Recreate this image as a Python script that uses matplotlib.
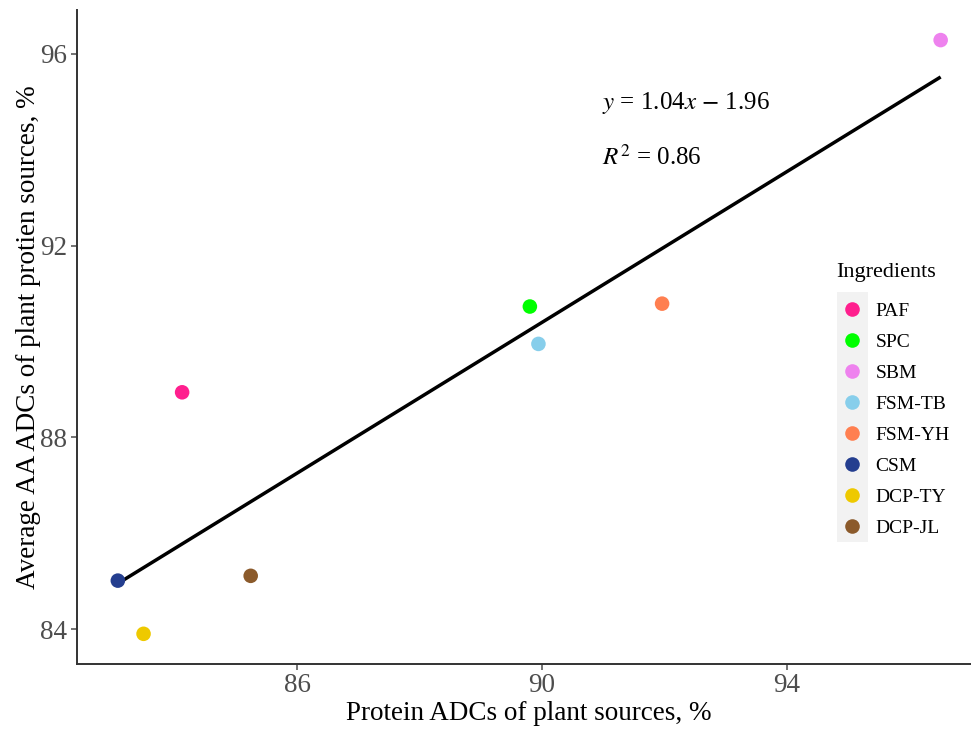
import numpy as np
import matplotlib
matplotlib.use("Agg")
import matplotlib.pyplot as plt
from matplotlib.lines import Line2D
from matplotlib.patches import Rectangle

plt.rcParams['font.family'] = ['Liberation Serif', 'DejaVu Serif']
plt.rcParams['mathtext.fontset'] = 'stix'

# datos
ingredients = ['PAF', 'SPC', 'SBM', 'FSM-TB', 'FSM-YH', 'CSM', 'DCP-TY', 'DCP-JL']
protein_adc = [84.12, 89.80, 96.51, 89.94, 91.96, 83.07, 83.49, 85.24]
aa_adc = [88.94, 90.73, 96.29, 89.95, 90.79, 85.01, 83.90, 85.11]
colors = ['#FF1F8E', '#00FF00', '#EE82EE', '#87CEEB', '#FF7F50', '#243E8F', '#EEC900', '#8B5A2B']
x_ticks = [86, 90, 94]
y_ticks = [84, 88, 92, 96]
eq_text = r'$y$ = 1.04$x$ $-$ 1.96'
r2_text = r'$R^2$ = 0.86'

fig = plt.figure(figsize=(9.71, 7.29), dpi=100)
W, H = 971, 729
ax = fig.add_axes([76.7 / W, (H - 663.5) / H, (981.8 - 76.7) / W, (663.5 - 10.4) / H])

x = np.array(protein_adc)
y = np.array(aa_adc)

# recta de regresion (minimos cuadrados)
b, a = np.polyfit(x, y, 1)
xl = np.array([x.min(), x.max()])
ax.plot(xl, a + b * xl, color='black', lw=2.5, zorder=2, solid_capstyle='butt')

for xi, yi, c in zip(x, y, colors):
    ax.scatter(xi, yi, s=110, color=c, edgecolors='none', zorder=3)

# expansion tipo ggplot
dx = (x.max() - x.min()) * 0.05
dy = (y.max() - y.min()) * 0.05
ax.set_xlim(x.min() - dx, x.max() + dx)
ax.set_ylim(y.min() - dy, y.max() + dy)

ax.set_xticks(x_ticks)
ax.set_yticks(y_ticks)
ax.tick_params(labelsize=19.5, colors='#4D4D4D', length=4, width=1.1, pad=3)
for s in ['top', 'right']:
    ax.spines[s].set_visible(False)
for s in ['left', 'bottom']:
    ax.spines[s].set_color('#333333')
    ax.spines[s].set_linewidth(1.4)

ax.set_xlabel('Protein ADCs of plant sources, %', fontsize=19.5, labelpad=2)
ax.set_ylabel('Average AA ADCs of plant protien sources, %', fontsize=19.5, labelpad=-1)

ax.text(90.98, 94.98, eq_text, fontsize=18, va='center', ha='left')
ax.text(90.98, 93.85, r2_text, fontsize=18, va='center', ha='left')

# leyenda
fig.patches.append(Rectangle((837 / W, (H - 542) / H), 31 / W, 250 / H,
                             transform=fig.transFigure, facecolor='#F2F2F2',
                             edgecolor='none', zorder=1))
fig.text(836 / W, (H - 272) / H, 'Ingredients', fontsize=16, ha='left', va='center')
handles = [Line2D([], [], marker='o', ls='none', markersize=10.5, color=c,
                  markeredgewidth=0) for c in colors]
leg = fig.legend(handles, ingredients, loc='upper left',
                 bbox_to_anchor=(819 / W, (H - 284.5) / H), frameon=False,
                 fontsize=14, labelspacing=0.69,
                 handletextpad=0.4, handlelength=1.6)

fig.savefig('out.png', dpi=100)
